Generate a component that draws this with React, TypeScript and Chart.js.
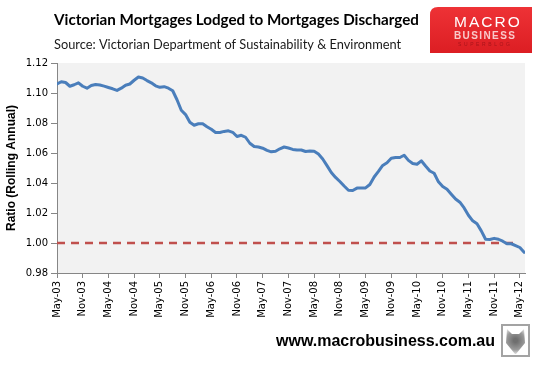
import React, { useEffect, useRef } from "react";
import { Chart, registerables } from "chart.js";

Chart.register(...registerables);

const TITLE = "Victorian Mortgages Lodged to Mortgages Discharged";
const SUBTITLE = "Source: Victorian Department of Sustainability & Environment";
const Y_TITLE = "Ratio (Rolling Annual)";
const URL_TEXT = "www.macrobusiness.com.au";

// tick labels every 6 months starting May-03 (month index 0)
const tickLabels = [
  "May-03", "Nov-03", "May-04", "Nov-04", "May-05", "Nov-05", "May-06", "Nov-06",
  "May-07", "Nov-07", "May-08", "Nov-08", "May-09", "Nov-09", "May-10", "Nov-10",
  "May-11", "Nov-11", "May-12",
];

// monthly rolling-annual ratio, May-03 .. Jun-12
const ratio = [
  1.106, 1.1075, 1.107, 1.1045, 1.1055, 1.1068, 1.1045, 1.1032, 1.105, 1.1057,
  1.1053, 1.1046, 1.1037, 1.1028, 1.1017, 1.1032, 1.1052, 1.106, 1.1085, 1.1107,
  1.11, 1.1083, 1.1068, 1.1048, 1.1038, 1.1042, 1.1032, 1.1015, 1.0955, 1.0885,
  1.0856, 1.0805, 1.0785, 1.0795, 1.0795, 1.0775, 1.0758, 1.0737, 1.0737, 1.0744,
  1.0748, 1.0738, 1.071, 1.0718, 1.0705, 1.0665, 1.0643, 1.064, 1.0632, 1.0618,
  1.0608, 1.0612, 1.0628, 1.064, 1.0633, 1.0624, 1.062, 1.062, 1.061, 1.0614,
  1.0612, 1.0593, 1.056, 1.0516, 1.047, 1.0437, 1.041, 1.038, 1.0352, 1.035,
  1.0366, 1.0367, 1.0367, 1.039, 1.044, 1.0477, 1.0517, 1.0535, 1.0565, 1.057,
  1.057, 1.0585, 1.0551, 1.053, 1.0525, 1.0548, 1.0513, 1.048, 1.0465, 1.0408,
  1.0376, 1.0358, 1.0325, 1.0293, 1.0272, 1.0234, 1.0185, 1.0148, 1.0128, 1.0081,
  1.0025, 1.0023, 1.0031, 1.0025, 1.0012, 0.9995, 0.9995, 0.9983, 0.997, 0.9938,
];

const parityLevel = 1.0;
const parityMonths = 108;

const yMin = 0.98;
const yMax = 1.12;
const yStep = 0.02;

const decorPlugin = {
  id: "decor",
  beforeDraw(chart: any) {
    const { ctx, chartArea } = chart;
    ctx.save();
    ctx.fillStyle = "#ffffff";
    ctx.fillRect(0, 0, chart.width, chart.height);
    ctx.fillStyle = "#f2f2f2";
    ctx.fillRect(chartArea.left, chartArea.top, chartArea.right - chartArea.left, chartArea.bottom - chartArea.top);
    ctx.restore();
  },
  afterDraw(chart: any) {
    const ctx: CanvasRenderingContext2D = chart.ctx;
    ctx.save();
    ctx.textBaseline = "alphabetic";
    ctx.textAlign = "left";
    ctx.fillStyle = "#000000";
    ctx.font = "bold 15.2px Lato";
    ctx.fillText(TITLE, 54, 24.5);
    ctx.fillStyle = "#1a1a1a";
    ctx.font = "12.8px Lato";
    ctx.fillText(SUBTITLE, 54, 48.5);

    ctx.fillStyle = "#000000";
    ctx.font = "bold 16px 'Liberation Sans'";
    ctx.fillText(URL_TEXT, 276, 346);

    // logo box
    const lx = 430, ly = 7, lw = 102, lh = 46;
    const g = ctx.createLinearGradient(0, ly, 0, ly + lh);
    g.addColorStop(0, "#ee3236");
    g.addColorStop(1, "#dc1e23");
    ctx.fillStyle = g;
    ctx.beginPath();
    ctx.moveTo(lx + 8, ly);
    ctx.lineTo(lx + lw, ly);
    ctx.lineTo(lx + lw, ly + lh);
    ctx.lineTo(lx, ly + lh);
    ctx.lineTo(lx, ly + 8);
    ctx.quadraticCurveTo(lx, ly, lx + 8, ly);
    ctx.fill();
    (ctx as any).letterSpacing = "2px";
    ctx.fillStyle = "#ffffff";
    ctx.font = "15.5px 'Liberation Sans'";
    ctx.fillText("MACRO", 454, 27);
    (ctx as any).letterSpacing = "1.4px";
    ctx.fillStyle = "#f9c9ca";
    ctx.font = "bold 10px 'Liberation Sans'";
    ctx.fillText("BUSINESS", 454, 38.5);
    (ctx as any).letterSpacing = "2.6px";
    ctx.fillStyle = "#a8141a";
    ctx.font = "5px 'Liberation Sans'";
    ctx.fillText("SUPERBLOG", 458, 46);
    (ctx as any).letterSpacing = "0px";

    // wolf badge
    const wx = 502, wy = 325, ww = 27, wh = 31;
    ctx.fillStyle = "#ffffff";
    ctx.fillRect(wx, wy, ww, wh);
    const rg = ctx.createRadialGradient(wx + ww / 2, wy + wh / 2, 2, wx + ww / 2, wy + wh / 2, 14);
    rg.addColorStop(0, "#6f6f6f");
    rg.addColorStop(0.6, "#9a9a9a");
    rg.addColorStop(1, "#e6e6e6");
    ctx.fillStyle = rg;
    ctx.beginPath();
    ctx.moveTo(wx + 5, wy + 4);
    ctx.lineTo(wx + 10, wy + 9);
    ctx.lineTo(wx + 17, wy + 9);
    ctx.lineTo(wx + 22, wy + 4);
    ctx.lineTo(wx + 23, wy + 18);
    ctx.lineTo(wx + 14, wy + 29);
    ctx.lineTo(wx + 13, wy + 29);
    ctx.lineTo(wx + 4, wy + 18);
    ctx.closePath();
    ctx.fill();
    ctx.strokeStyle = "#a3a3a3";
    ctx.lineWidth = 2;
    ctx.strokeRect(wx, wy, ww, wh);
    ctx.restore();
  },
};

export default function App() {
  const canvasRef = useRef<HTMLCanvasElement | null>(null);

  useEffect(() => {
    const canvas = canvasRef.current;
    if (!canvas) return;
    const lineData = ratio.map((v, i) => ({ x: i, y: v }));
    const parityData = Array.from({ length: parityMonths }, (_, i) => ({ x: i, y: parityLevel }));
    const axisColor = "#868686";
    const chart = new Chart(canvas, {
      type: "line",
      data: {
        datasets: [
          {
            label: "Ratio",
            data: lineData,
            borderColor: "#4a7ebb",
            borderWidth: 3,
            pointRadius: 0,
            tension: 0,
            borderJoinStyle: "round",
            borderCapStyle: "round",
            order: 1,
          },
          {
            label: "Parity",
            data: parityData,
            borderColor: "#c0504d",
            borderWidth: 2.5,
            borderDash: [8, 6],
            pointRadius: 0,
            tension: 0,
            order: 2,
          },
        ],
      },
      options: {
        animation: false,
        responsive: false,
        devicePixelRatio: 1,
        layout: { padding: { top: 63, right: 15, bottom: 0, left: 0 } },
        plugins: {
          legend: { display: false },
          tooltip: { enabled: false },
          title: { display: false },
        },
        scales: {
          x: {
            type: "linear",
            min: 0,
            max: 109.2,
            afterFit(scale: any) {
              scale.height = 95;
            },
            grid: {
              drawOnChartArea: false,
              drawTicks: true,
              tickLength: 5,
              color: axisColor,
              lineWidth: 1,
            },
            border: { display: true, color: axisColor, width: 1 },
            ticks: {
              stepSize: 6,
              includeBounds: false,
              autoSkip: false,
              maxRotation: 90,
              minRotation: 90,
              padding: 3,
              color: "#000000",
              font: { family: "'DejaVu Sans'", size: 10 },
              callback: (v: any) => {
                const idx = Math.round(Number(v) / 6);
                return Number(v) % 6 === 0 ? tickLabels[idx] ?? "" : "";
              },
            },
          },
          y: {
            type: "linear",
            min: yMin,
            max: yMax,
            afterFit(scale: any) {
              scale.width = 57;
            },
            grid: {
              drawOnChartArea: false,
              drawTicks: true,
              tickLength: 6,
              color: axisColor,
              lineWidth: 1,
            },
            border: { display: true, color: axisColor, width: 1 },
            title: {
              display: true,
              text: Y_TITLE,
              color: "#000000",
              font: { family: "'Liberation Sans'", size: 12, weight: "bold" },
              padding: { top: 4, bottom: 4 },
            },
            ticks: {
              stepSize: yStep,
              padding: 3,
              color: "#000000",
              font: { family: "'DejaVu Sans'", size: 10 },
              callback: (v: any) => Number(v).toFixed(2),
            },
          },
        },
      },
      plugins: [decorPlugin],
    });
    return () => chart.destroy();
  }, []);

  return (
    <div style={{ position: "absolute", left: 0, top: 0, width: 540, height: 368 }}>
      <canvas ref={canvasRef} width={540} height={368} style={{ width: 540, height: 368, display: "block" }} />
    </div>
  );
}
